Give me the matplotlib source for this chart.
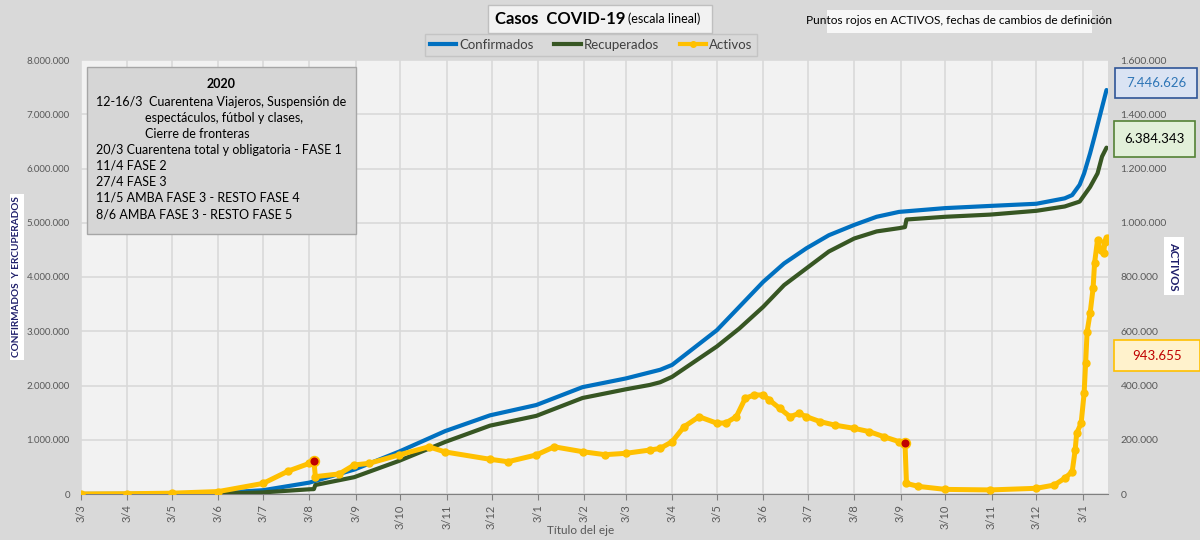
import matplotlib
matplotlib.use("Agg")
import matplotlib.pyplot as plt
import matplotlib.dates as mdates
import matplotlib.ticker as mticker
from matplotlib.patches import Rectangle
from matplotlib.lines import Line2D
import pandas as pd

plt.rcParams['font.family'] = ['Lato', 'DejaVu Sans']

# Confirmados (millones)
conf_dates = ['2020-03-03', '2020-04-03', '2020-05-03', '2020-06-03', '2020-07-03', '2020-08-03',
              '2020-09-02', '2020-10-02', '2020-11-02', '2020-12-02', '2021-01-02', '2021-02-02',
              '2021-03-03', '2021-03-26', '2021-04-03', '2021-05-03', '2021-05-18', '2021-06-03',
              '2021-06-17', '2021-07-02', '2021-07-17', '2021-08-03', '2021-08-18', '2021-09-02',
              '2021-10-03', '2021-11-02', '2021-12-03', '2021-12-22', '2021-12-27', '2022-01-01',
              '2022-01-04', '2022-01-08', '2022-01-11', '2022-01-15', '2022-01-19']
conf_m = [0, 0.001, 0.005, 0.019, 0.07, 0.21,
          0.45, 0.78, 1.16, 1.45, 1.64, 1.97,
          2.13, 2.29, 2.38, 3.02, 3.45, 3.91,
          4.25, 4.53, 4.77, 4.96, 5.11, 5.20,
          5.27, 5.31, 5.35, 5.45, 5.51, 5.70,
          5.91, 6.28, 6.59, 7.02, 7.446626]

# Recuperados (millones)
rec_dates = ['2020-03-03', '2020-05-03', '2020-06-03', '2020-07-03', '2020-08-03', '2020-08-06',
             '2020-08-07', '2020-09-02', '2020-10-02', '2020-11-02', '2020-12-02', '2021-01-02',
             '2021-02-02', '2021-03-03', '2021-03-19', '2021-03-26', '2021-04-03', '2021-05-03',
             '2021-05-18', '2021-06-03', '2021-06-17', '2021-07-02', '2021-07-17', '2021-08-03',
             '2021-08-18', '2021-09-02', '2021-09-06', '2021-09-07', '2021-10-03', '2021-11-02',
             '2021-12-03', '2021-12-22', '2022-01-01', '2022-01-08', '2022-01-13', '2022-01-16',
             '2022-01-19']
rec_m = [0, 0.001, 0.006, 0.03, 0.087, 0.09,
         0.166, 0.31, 0.61, 0.96, 1.26, 1.44,
         1.77, 1.93, 2.01, 2.06, 2.16, 2.72,
         3.05, 3.45, 3.85, 4.16, 4.47, 4.71,
         4.84, 4.90, 4.92, 5.06, 5.11, 5.15,
         5.22, 5.30, 5.39, 5.66, 5.91, 6.22,
         6.384343]

# Activos (miles)
act_dates = ['2020-03-03', '2020-04-03', '2020-05-03', '2020-06-03', '2020-07-03', '2020-07-20',
             '2020-08-03', '2020-08-06', '2020-08-07', '2020-08-23', '2020-09-02', '2020-09-12',
             '2020-10-02', '2020-10-22', '2020-11-02', '2020-12-02', '2020-12-14', '2021-01-02',
             '2021-01-14', '2021-02-02', '2021-02-17', '2021-03-03', '2021-03-19', '2021-03-26',
             '2021-04-03', '2021-04-11', '2021-04-21', '2021-05-03', '2021-05-09', '2021-05-16',
             '2021-05-22', '2021-05-28', '2021-06-03', '2021-06-07', '2021-06-14', '2021-06-21',
             '2021-06-27', '2021-07-02', '2021-07-11', '2021-07-21', '2021-08-03', '2021-08-13',
             '2021-08-23', '2021-09-02', '2021-09-06', '2021-09-07', '2021-09-15', '2021-10-03',
             '2021-11-02', '2021-12-03', '2021-12-15', '2021-12-22', '2021-12-27', '2021-12-29',
             '2021-12-30', '2022-01-02', '2022-01-04', '2022-01-05', '2022-01-06', '2022-01-08',
             '2022-01-10', '2022-01-11', '2022-01-13', '2022-01-15', '2022-01-17', '2022-01-18',
             '2022-01-19']
act_k = [0, 1, 3, 9, 39, 85,
         113, 123, 64, 74, 107, 113,
         144, 174, 155, 128, 119, 144,
         174, 156, 145, 150, 162, 168,
         193, 248, 285, 261, 262, 285,
         353, 365, 365, 347, 316, 285,
         297, 285, 267, 254, 242, 230,
         211, 193, 187, 39, 28, 17,
         15, 21, 33, 58, 82, 162,
         224, 261, 371, 482, 598, 666,
         758, 851, 937, 900, 887, 930,
         943.655]

# fechas de cambios de definicion (puntos rojos)
red_dates = ['2020-08-06', '2021-09-06']

x_start, x_end = '2020-03-03', '2022-01-20'
last_conf, last_rec, last_act = '7.446.626', '6.384.343', '943.655'

notes = [
    ("12-16/3  Cuarentena Viajeros, Suspensión de", 0),
    ("espectáculos, fútbol y clases,", 1),
    ("Cierre de fronteras", 1),
    ("20/3 Cuarentena total y obligatoria - FASE 1", 0),
    ("11/4 FASE 2", 0),
    ("27/4 FASE 3", 0),
    ("11/5 AMBA FASE 3 - RESTO FASE 4", 0),
    ("8/6 AMBA FASE 3 - RESTO FASE 5", 0),
]

BLUE, GREEN, YELLOW, RED = '#0070c0', '#375623', '#ffc000', '#c00000'
W, H = 1200, 540


def fx(px):
    return px / W


def fy(py):
    return 1 - py / H


fig, ax = plt.subplots(figsize=(12, 5.4), dpi=100)
fig.patch.set_facecolor('#d9d9d9')
fig.subplots_adjust(left=fx(81), right=fx(1108), top=fy(60), bottom=fy(494))
ax.set_facecolor('#f2f2f2')

cd = pd.to_datetime(conf_dates)
rd = pd.to_datetime(rec_dates)
ad = pd.to_datetime(act_dates)

ax.plot(cd, [v * 1e6 for v in conf_m], color=BLUE, lw=3, solid_capstyle='round', zorder=3)
ax.plot(rd, [v * 1e6 for v in rec_m], color=GREEN, lw=3, solid_capstyle='round', zorder=3)

ax2 = ax.twinx()
act_vals = [v * 1e3 for v in act_k]
ax2.plot(ad, act_vals, color=YELLOW, lw=3.6, marker='o', ms=5, zorder=4)
act_map = dict(zip(act_dates, act_vals))
ax2.plot(pd.to_datetime(red_dates), [act_map[d] for d in red_dates], 'o', color=RED,
         ms=7, mec=YELLOW, mew=1.2, zorder=5, linestyle='none')

ax.set_xlim(pd.Timestamp(x_start), pd.Timestamp(x_end))
ax.set_ylim(0, 8e6)
ax2.set_ylim(0, 1.6e6)
ax.set_yticks(range(0, 8000001, 1000000))
ax2.set_yticks(range(0, 1600001, 200000))

fmt = mticker.FuncFormatter(lambda v, p: f"{int(v):,}".replace(',', '.'))
ax.yaxis.set_major_formatter(fmt)
ax2.yaxis.set_major_formatter(fmt)

ax.xaxis.set_major_locator(mdates.MonthLocator(bymonthday=3))
ax.xaxis.set_major_formatter(mticker.FuncFormatter(
    lambda v, p: f"{mdates.num2date(v).day}/{mdates.num2date(v).month}"))

ax.grid(True, color='#d9d9d9', lw=1.2, zorder=0)
ax.set_axisbelow(True)
for a in (ax, ax2):
    for s in ('top', 'left', 'right'):
        a.spines[s].set_visible(False)
    a.spines['bottom'].set_color('#808080')
ax2.spines['bottom'].set_visible(False)
ax.tick_params(axis='x', colors='#595959', labelsize=8, length=4, direction='out', labelrotation=90)
ax.tick_params(axis='x', color='#808080')
ax.tick_params(axis='y', colors='#595959', labelsize=7, length=0, pad=8)
ax2.tick_params(axis='y', colors='#595959', labelsize=7.5, length=0, pad=9)

# titulo
fig.patches.append(Rectangle((fx(488), fy(33)), fx(224), 28 / H, transform=fig.transFigure,
                             facecolor='#f2f2f2', edgecolor='#bfbfbf', lw=1))
fig.text(fx(495), fy(19), 'Casos  COVID-19', fontsize=12, fontweight='bold', color='black',
         va='center', ha='left')
fig.text(fx(628), fy(19), '(escala lineal)', fontsize=9, color='black', va='center', ha='left')

# nota
fig.patches.append(Rectangle((fx(827), fy(33)), fx(265), 23 / H, transform=fig.transFigure,
                             facecolor='#f7f7f7', edgecolor='none'))
fig.text(fx(959), fy(21), 'Puntos rojos en ACTIVOS, fechas de cambios de definición',
         fontsize=8.6, color='black', ha='center', va='center')

# leyenda
handles = [Line2D([], [], color=BLUE, lw=3),
           Line2D([], [], color=GREEN, lw=3),
           Line2D([], [], color=YELLOW, lw=3, marker='o', ms=4)]
leg = fig.legend(handles, ['Confirmados', 'Recuperados', 'Activos'], loc='center',
                 bbox_to_anchor=(fx(591), fy(45)), ncol=3, frameon=True, fancybox=False,
                 fontsize=9.5, handlelength=2.0, handletextpad=0.2, columnspacing=1.6,
                 borderpad=0.35)
leg.get_frame().set_facecolor('#d9d9d9')
leg.get_frame().set_edgecolor('#bfbfbf')
for t in leg.get_texts():
    t.set_color('#404040')

# cuadro de notas 2020
fig.patches.append(Rectangle((fx(87), fy(234)), fx(269), 167 / H, transform=fig.transFigure,
                             facecolor='#d6d6d6', edgecolor='#a6a6a6', lw=1, zorder=5))
fig.text(fx(221), fy(84), '2020', fontsize=9, fontweight='bold', ha='center', va='center', zorder=6)
for i, (txt, ind) in enumerate(notes):
    fig.text(fx(96 if ind == 0 else 145), fy(102 + 16 * i), txt, fontsize=9, ha='left',
             va='center', zorder=6)

# titulos de ejes
fig.text(fx(17), fy(277), 'CONFIRMADOS  Y ERCUPERADOS', rotation=90, fontsize=7.2,
         fontweight='bold', color='#1f1f6b', ha='center', va='center',
         bbox=dict(facecolor='white', edgecolor='none', pad=1.5))
fig.text(fx(1174), fy(266), 'ACTIVOS', rotation=270, fontsize=8.2, fontweight='bold',
         color='#1f1f6b', ha='center', va='center',
         bbox=dict(facecolor='white', edgecolor='none', pad=3))
fig.text(fx(581), fy(530), 'Título del eje', fontsize=8.5, color='#595959', ha='center', va='center')

# ultimos valores
boxes = [(last_conf, 1115, 68, 82, 30, '#dae3f3', '#2f5597', '#2e75b6'),
         (last_rec, 1114, 121, 81, 36, '#e2f0d9', '#548235', 'black'),
         (last_act, 1114, 340, 86, 31, '#fff2cc', YELLOW, RED)]
for txt, x0, y0, w, h, fc, ec, tc in boxes:
    fig.patches.append(Rectangle((fx(x0), fy(y0 + h)), fx(w), h / H, transform=fig.transFigure,
                                 facecolor=fc, edgecolor=ec, lw=1.2))
    fig.text(fx(x0 + w / 2), fy(y0 + h / 2), txt, fontsize=9.5, color=tc, ha='center', va='center')

fig.savefig('out.png', dpi=100, facecolor=fig.get_facecolor())
